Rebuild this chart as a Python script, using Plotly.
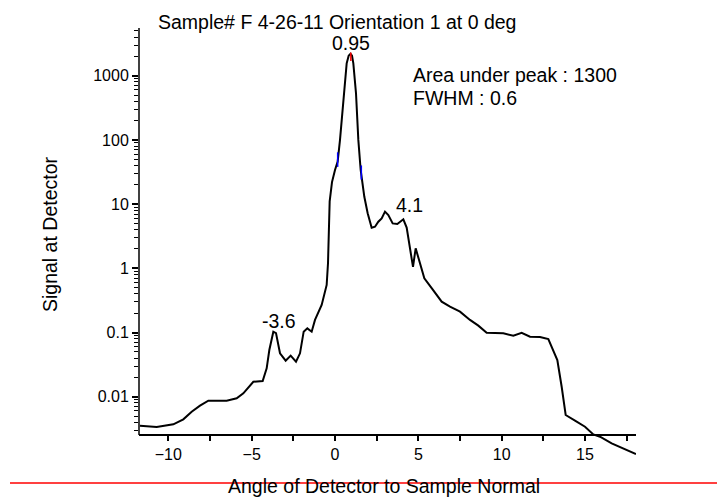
import plotly.graph_objects as go

# ---- data ----
angle = [-11.70, -10.70, -9.70, -9.10, -8.60, -8.10, -7.60, -6.50, -5.90, -5.50,
         -4.90, -4.34, -4.10, -3.94, -3.70, -3.54, -3.30, -2.96, -2.66, -2.34,
         -2.10, -1.88, -1.66, -1.40, -1.20, -0.80, -0.50, -0.42, -0.32, -0.18,
         0.00, 0.16, 0.30, 0.50, 0.70, 0.82, 0.93, 1.02, 1.10, 1.26,
         1.40, 1.54, 1.62, 1.76, 1.96, 2.20, 2.40, 2.60, 2.80, 3.00,
         3.20, 3.46, 3.74, 4.10, 4.30, 4.48, 4.68, 4.84, 5.10, 5.36,
         5.80, 6.40, 6.90, 7.50, 8.10, 8.60, 9.10, 10.10, 10.70, 11.20,
         11.70, 12.30, 12.80, 13.10, 13.34, 13.60, 13.84, 14.40, 15.00, 15.50,
         15.90, 16.60, 17.30, 18.06]
signal = [0.00353, 0.00337, 0.00371, 0.00444, 0.00584, 0.00724, 0.00867, 0.00867, 0.00944, 0.0113,
          0.0171, 0.0175, 0.0277, 0.0533, 0.103, 0.098, 0.0474, 0.0364, 0.0436, 0.0351,
          0.0474, 0.103, 0.116, 0.103, 0.157, 0.268, 0.55, 1.2, 11.0, 22.0,
          34.0, 46.0, 100.0, 417.0, 1560.0, 2050.0, 2200.0, 2050.0, 1560.0, 532.0,
          100.0, 34.0, 22.0, 13.0, 7.2, 4.29, 4.44, 5.32, 6.0, 7.63,
          6.77, 5.0, 4.9, 5.8, 4.3, 2.3, 1.05, 2.05, 1.2, 0.70,
          0.49, 0.302, 0.252, 0.211, 0.157, 0.128, 0.099, 0.097, 0.089, 0.099,
          0.086, 0.085, 0.079, 0.0533, 0.0373, 0.0143, 0.00519, 0.00423, 0.00341, 0.00259,
          0.00238, 0.00188, 0.00157, 0.00128]

peak_x = [0.95]
peak_mark = [2300, 1700]
fwhm_left_x = [0.16, 0.16]
fwhm_left_y = [38, 64]
fwhm_right_x = [1.58, 1.58]
fwhm_right_y = [24, 40]

peak_labels = ["0.95", "4.1", "-3.6"]
label_x = [0.96, 4.44, -3.36]
label_logy = [3.51, 0.99, -0.82]

y_tickvals = [0.01, 0.1, 1, 10, 100, 1000]
y_ticktext = ["0.01", "0.1", "1", "10", "100", "1000"]

title_text = "Sample# F 4-26-11 Orientation 1 at 0 deg"
info_lines = ["Area under peak : 1300", "FWHM : 0.6"]

# ---- layout geometry (reference pixel positions; page body adds an 8px offset) ----
OFF = 8
W, H = 725, 498
L, R, T, B = 139 - OFF, 636 - OFF, 28 - OFF, 460 - OFF
X_RANGE = [-11.76, 18.06]
Y_RANGE = [-2.986, 3.743]
XAXIS_PX = 435

def px_x(p):
    return (p - OFF - L) / (R - L)

def px_y(p):
    return (B - (p - OFF)) / (B - T)

font = "Liberation Sans, Arial, sans-serif"
TXT = 19.5

minor_vals = [m * 10 ** e for e in range(-3, 4) for m in range(2, 10)]
minor_vals = [v for v in minor_vals if 0.0029 <= v <= 5500]

fig = go.Figure()
fig.add_trace(go.Scatter(x=angle, y=signal, mode="lines",
                         line=dict(color="black", width=2), showlegend=False))
fig.add_trace(go.Scatter(x=peak_x * 2, y=peak_mark, mode="lines",
                         line=dict(color="red", width=1.5), showlegend=False))
fig.add_trace(go.Scatter(x=fwhm_left_x, y=fwhm_left_y, mode="lines",
                         line=dict(color="blue", width=1.5), showlegend=False))
fig.add_trace(go.Scatter(x=fwhm_right_x, y=fwhm_right_y, mode="lines",
                         line=dict(color="blue", width=1.5), showlegend=False))

annotations = []
for t, x, y in zip(peak_labels, label_x, label_logy):
    annotations.append(dict(text=t, x=x, y=y, xref="x", yref="y", showarrow=False,
                            xanchor="center", yanchor="middle",
                            font=dict(size=TXT, color="black", family=font)))
for i, t in enumerate(info_lines):
    annotations.append(dict(text=t, x=px_x(411), y=px_y(75 + 23 * i), xref="paper", yref="paper",
                            xanchor="left", yanchor="middle", showarrow=False,
                            font=dict(size=TXT, color="black", family=font)))
annotations.append(dict(text=title_text, x=px_x(156), y=px_y(22), xref="paper", yref="paper",
                        xanchor="left", yanchor="middle", showarrow=False,
                        font=dict(size=TXT, color="black", family=font)))
annotations.append(dict(text="Angle of Detector to Sample Normal", x=px_x(384), y=px_y(486),
                        xref="paper", yref="paper", showarrow=False,
                        xanchor="center", yanchor="middle",
                        font=dict(size=TXT, color="black", family=font)))
annotations.append(dict(text="Signal at Detector", x=px_x(50), y=px_y(234), textangle=-90,
                        xref="paper", yref="paper", showarrow=False,
                        xanchor="center", yanchor="middle",
                        font=dict(size=TXT, color="black", family=font)))

shapes = [
    dict(type="line", xref="paper", yref="paper", x0=0, x1=0,
         y0=px_y(XAXIS_PX), y1=1, line=dict(color="black", width=1.5)),
    dict(type="line", xref="paper", yref="paper", x0=px_x(10), x1=px_x(733),
         y0=px_y(483), y1=px_y(483), line=dict(color="red", width=1.5)),
]

fig.update_layout(
    width=W, height=H,
    margin=dict(l=L, r=W - R, t=T, b=H - B, pad=0),
    paper_bgcolor="white", plot_bgcolor="white",
    font=dict(family=font, size=16, color="black"),
    annotations=annotations, shapes=shapes,
    xaxis=dict(range=X_RANGE, anchor="free", position=px_y(XAXIS_PX),
               showline=True, linecolor="black", linewidth=1.5,
               showgrid=False, zeroline=False,
               tickmode="linear", tick0=0, dtick=5,
               ticks="outside", ticklen=5, tickwidth=1.5, tickcolor="black",
               minor=dict(dtick=2.5, tick0=0, ticks="outside", ticklen=5, tickwidth=1.5,
                          tickcolor="black", showgrid=False),
               tickfont=dict(size=16, family=font)),
    yaxis=dict(type="log", range=Y_RANGE, showline=False,
               showgrid=False, zeroline=False,
               tickmode="array", tickvals=y_tickvals, ticktext=y_ticktext,
               ticks="outside", ticklen=6, tickwidth=1.5, tickcolor="black",
               minor=dict(tickmode="array", tickvals=minor_vals, ticks="outside",
                          ticklen=4, tickwidth=1, tickcolor="black", showgrid=False),
               tickfont=dict(size=16, family=font)),
)

fig.write_html("out.html")
